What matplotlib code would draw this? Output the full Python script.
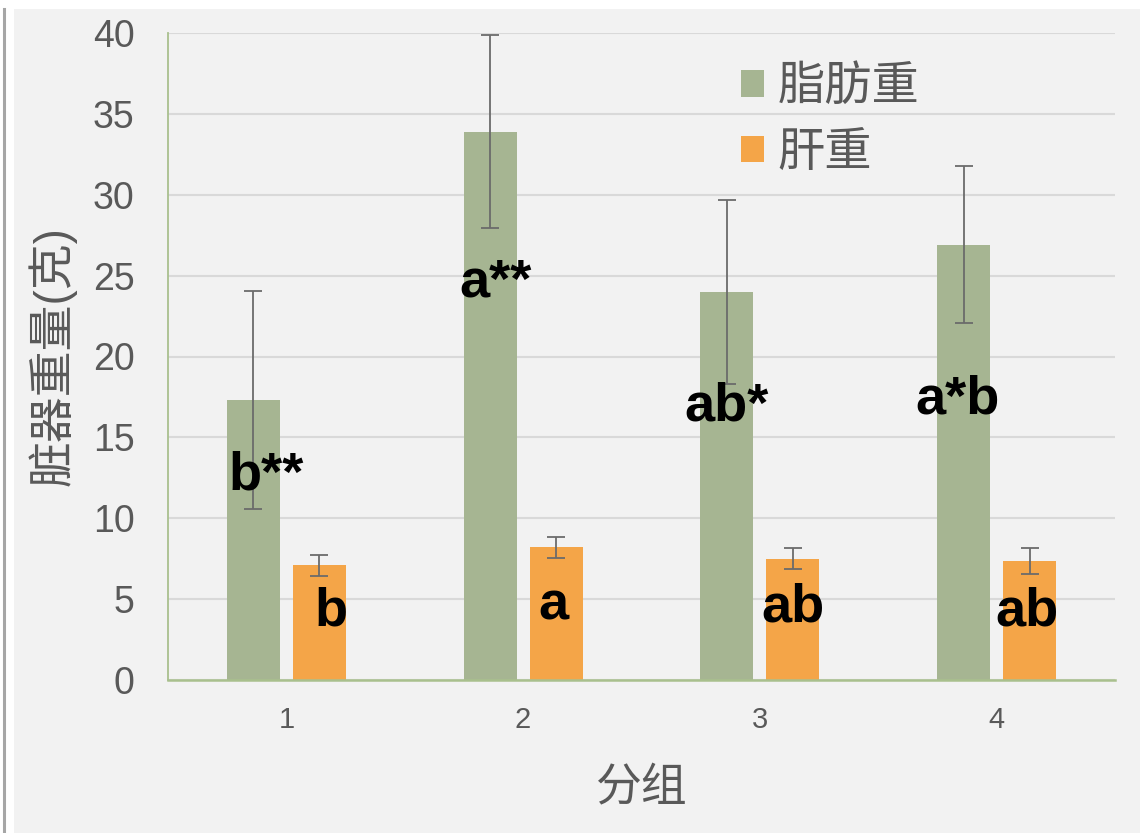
import matplotlib
matplotlib.use("Agg")
import matplotlib.pyplot as plt
from matplotlib.patches import Rectangle
from matplotlib.lines import Line2D
import numpy as np

plt.rcParams['font.family'] = ['Liberation Sans', 'Noto Sans CJK SC', 'DejaVu Sans']

groups = ['1', '2', '3', '4']
fat = [17.3, 33.9, 24.0, 26.9]
fat_err = [6.75, 5.95, 5.7, 4.85]
liver = [7.1, 8.2, 7.5, 7.35]
liver_err = [0.65, 0.65, 0.63, 0.8]
fat_marks = ['b**', 'a**', 'ab*', 'a*b']
liver_marks = ['b', 'a', 'ab', 'ab']
# label anchor (x offset from group centre, baseline y)
fat_mark_dx = [-0.086, -0.115, -0.139, -0.167]
fat_mark_y = [11.75, 23.7, 16.05, 16.5]
liver_mark_dx = [0.188, 0.126, 0.14, 0.128]
liver_mark_y = [3.4, 3.75, 3.6, 3.4]

green = '#A6B592'
orange = '#F4A548'
text_gray = '#595959'

fig = plt.figure(figsize=(11.4, 8.33), dpi=100)
fig.patch.set_facecolor('white')
# grey panel and left border line like the screenshot
fig.add_artist(Rectangle((14 / 1140, 0), 1 - 14 / 1140, 1 - 9 / 833,
                         transform=fig.transFigure, facecolor='#F2F2F2',
                         edgecolor='none', zorder=0))
fig.add_artist(Line2D([3.5 / 1140, 3.5 / 1140], [0, 1 - 9 / 833],
                      transform=fig.transFigure, color='#A6A6A6', lw=2.2))

ax = fig.add_axes([168 / 1140, 1 - 680 / 833, (1115 - 168) / 1140, (680 - 33) / 833])
ax.set_facecolor('none')

x = np.arange(len(groups))
w = 0.224
off = 0.139
b1 = ax.bar(x - off, fat, w, color=green, zorder=2, label='脂肪重')
b2 = ax.bar(x + off, liver, w, color=orange, zorder=2, label='肝重')
ax.errorbar(x - off, fat, yerr=fat_err, fmt='none', ecolor='#6b6b6b',
            elinewidth=1.3, capsize=6.5, capthick=1.3, zorder=3)
ax.errorbar(x + off, liver, yerr=liver_err, fmt='none', ecolor='#6b6b6b',
            elinewidth=1.3, capsize=6.5, capthick=1.3, zorder=3)

for i in range(len(groups)):
    ax.text(x[i] + fat_mark_dx[i], fat_mark_y[i], fat_marks[i], ha='center',
            va='baseline', fontsize=39, fontweight='bold', color='black', zorder=4)
    ax.text(x[i] + liver_mark_dx[i], liver_mark_y[i], liver_marks[i], ha='center',
            va='baseline', fontsize=39, fontweight='bold', color='black', zorder=4)

ax.set_xlim(-0.5, 3.5)
ax.set_ylim(0, 40)
ax.set_yticks(range(0, 41, 5))
ax.set_xticks(x)
ax.set_xticklabels(groups)
ax.yaxis.grid(True, color='#D9D9D9', lw=1.5, zorder=0)
ax.set_axisbelow(True)
for s in ['top', 'right']:
    ax.spines[s].set_visible(False)
ax.spines['left'].set_color('#A9C08E')
ax.spines['bottom'].set_color('#A9C08E')
ax.spines['left'].set_linewidth(1.3)
ax.spines['bottom'].set_linewidth(1.8)
ax.tick_params(axis='y', length=0, labelsize=27, labelcolor=text_gray, pad=24)
ax.tick_params(axis='x', length=0, labelsize=21, labelcolor=text_gray, pad=19)

ax.set_ylabel('脏器重量(克)', fontsize=33, color=text_gray, labelpad=12)
ax.set_xlabel('分组', fontsize=33, color=text_gray, labelpad=24)

ax.legend(handles=[b1, b2], loc='upper left', bbox_to_anchor=(0.58, 0.985),
          frameon=False, fontsize=34, handlelength=0.48, handleheight=0.48,
          handletextpad=0.3, labelspacing=0.45, borderpad=0, labelcolor=text_gray)

fig.savefig('out.png', dpi=100, facecolor=fig.get_facecolor())
